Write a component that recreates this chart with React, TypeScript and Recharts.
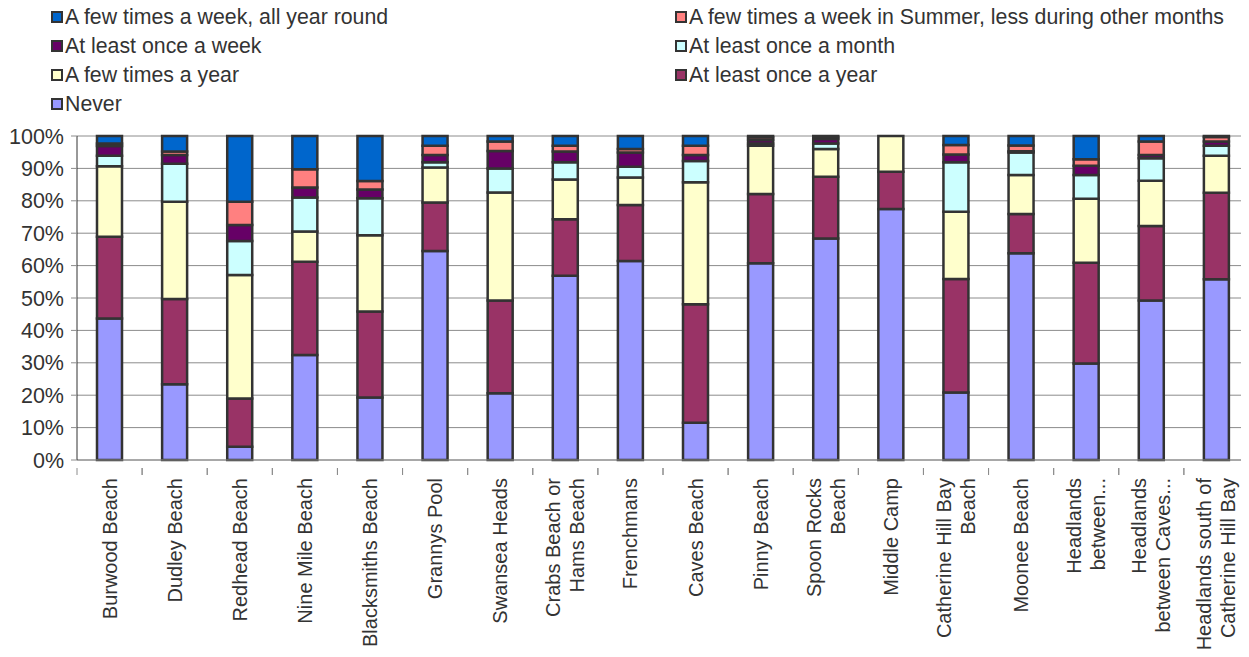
import React from 'react';
import { BarChart, Bar, XAxis, YAxis, CartesianGrid } from 'recharts';

const categories = [
  'Burwood Beach',
  'Dudley Beach',
  'Redhead Beach',
  'Nine Mile Beach',
  'Blacksmiths Beach',
  'Grannys Pool',
  'Swansea Heads',
  'Crabs Beach or\nHams Beach',
  'Frenchmans',
  'Caves Beach',
  'Pinny Beach',
  'Spoon Rocks\nBeach',
  'Middle Camp',
  'Catherine Hill Bay\nBeach',
  'Moonee Beach',
  'Headlands\nbetween...',
  'Headlands\nbetween Caves...',
  'Headlands south of\nCatherine Hill Bay',
];

// percentages, bottom segment first
const never = [43.7, 23.4, 4.1, 32.4, 19.3, 64.5, 20.6, 56.9, 61.4, 11.5, 60.7, 68.4, 77.5, 20.8, 63.8, 29.8, 49.2, 55.8];
const onceYear = [25.2, 26.3, 14.9, 28.8, 26.5, 15.0, 28.6, 17.4, 17.3, 36.6, 21.4, 19.0, 11.5, 35.1, 12.1, 31.1, 23.0, 26.7];
const fewYear = [21.8, 30.0, 38.1, 9.3, 23.6, 10.8, 33.4, 12.3, 8.5, 37.6, 14.9, 8.6, 11.0, 20.7, 12.1, 19.7, 14.0, 11.4];
const onceMonth = [3.2, 11.7, 10.5, 10.5, 11.4, 1.6, 7.4, 5.3, 3.3, 6.6, 0.7, 1.7, 0, 15.3, 6.9, 7.4, 6.9, 3.1];
const onceWeek = [3.0, 2.7, 4.9, 3.1, 2.7, 2.2, 5.4, 3.3, 4.4, 1.8, 1.1, 1.4, 0, 2.4, 0.4, 2.8, 1.0, 1.3];
const summer = [0.8, 1.1, 7.2, 5.6, 2.6, 2.9, 2.9, 1.8, 1.1, 2.9, 0.8, 0.6, 0, 2.9, 1.8, 2.0, 4.2, 1.4];
const allYear = [2.3, 4.8, 20.3, 10.3, 13.9, 3.0, 1.7, 3.0, 4.0, 3.0, 0.4, 0.3, 0, 2.8, 2.9, 7.2, 1.7, 0.3];

const yTicks = [0, 0.1, 0.2, 0.3, 0.4, 0.5, 0.6, 0.7, 0.8, 0.9, 1];

const series = [
  { key: 'never', name: 'Never', color: '#9999FF', values: never },
  { key: 'onceYear', name: 'At least once a year', color: '#993366', values: onceYear },
  { key: 'fewYear', name: 'A few times a year', color: '#FFFFCC', values: fewYear },
  { key: 'onceMonth', name: 'At least once a month', color: '#CCFFFF', values: onceMonth },
  { key: 'onceWeek', name: 'At least once a week', color: '#660066', values: onceWeek },
  { key: 'summer', name: 'A few times a week in Summer, less during other months', color: '#FF8080', values: summer },
  { key: 'allYear', name: 'A few times a week, all year round', color: '#0066CC', values: allYear },
];

// legend grid: two columns, reading order as in the original
const legendRows = [
  ['allYear', 'summer'],
  ['onceWeek', 'onceMonth'],
  ['fewYear', 'onceYear'],
  ['never'],
];

const data = categories.map((name, i) => {
  const row: any = { name };
  series.forEach(s => { row[s.key] = s.values[i]; });
  return row;
});

const W = 1249;
const H = 657;
const PLOT_LEFT = 77;
const PLOT_RIGHT = 0;
const BAND = (W - PLOT_LEFT - PLOT_RIGHT) / categories.length;
const FONT = '"Liberation Sans", Arial, sans-serif';

const CategoryTick = (props: any) => {
  const { x, y, payload } = props;
  const lines: string[] = String(payload.value).split('\n');
  const lh = 24;
  const start = -((lines.length - 1) * lh) / 2;
  return (
    <g>
      <line x1={x - BAND / 2} y1={y} x2={x - BAND / 2} y2={y + 7} stroke="#8c8c8c" />
      <line x1={x + BAND / 2} y1={y} x2={x + BAND / 2} y2={y + 7} stroke="#8c8c8c" />
      {lines.map((ln, i) => (
        <text
          key={i}
          transform={`translate(${x + start + i * lh + 7}, ${y + 10}) rotate(-90)`}
          textAnchor="end"
          fontSize={20}
          fill="#333"
          fontFamily={FONT}
        >
          {ln}
        </text>
      ))}
    </g>
  );
};

const Legend = () => (
  <div style={{ position: 'absolute', left: 0, top: 0, width: W, fontFamily: FONT, fontSize: 21.3, color: '#333' }}>
    {legendRows.map((row, r) =>
      row.map((k, c) => {
        const s = series.find(d => d.key === k)!;
        return (
          <div
            key={k}
            style={{
              position: 'absolute',
              left: c === 0 ? 51 : 675,
              top: 5 + r * 29,
              height: 24,
              display: 'flex',
              alignItems: 'center',
              whiteSpace: 'nowrap',
            }}
          >
            <span style={{ width: 8, height: 8, background: s.color, border: '2px solid #333', marginRight: 2, display: 'inline-block' }} />
            <span>{s.name}</span>
          </div>
        );
      })
    )}
  </div>
);

export default function App() {
  return (
    <div style={{ position: 'relative', width: W, height: H, margin: -8, background: '#fff', fontFamily: FONT }}>
      <Legend />
      <div style={{ position: 'absolute', left: 0, top: 0 }}>
        <BarChart
          width={W}
          height={H}
          data={data}
          stackOffset="expand"
          barSize={25}
          margin={{ top: 136, right: PLOT_RIGHT, bottom: 7, left: 7 }}
        >
          <CartesianGrid vertical={false} stroke="#8c8c8c" />
          <XAxis
            dataKey="name"
            interval={0}
            height={190}
            axisLine={{ stroke: '#8c8c8c' }}
            tickLine={false}
            tick={<CategoryTick />}
          />
          <YAxis
            width={70}
            domain={[0, 1]}
            ticks={yTicks}
            tickFormatter={(v: number) => `${Math.round(v * 100)}%`}
            axisLine={{ stroke: '#333' }}
            tickLine={{ stroke: '#8c8c8c' }}
            tickSize={6}
            tickMargin={7}
            tick={{ fontSize: 21.5, fill: '#333', fontFamily: FONT }}
          />
          {series.map(s => (
            <Bar
              key={s.key}
              dataKey={s.key}
              name={s.name}
              stackId="a"
              fill={s.color}
              stroke="#333"
              strokeWidth={2.5}
              isAnimationActive={false}
            />
          ))}
        </BarChart>
      </div>
    </div>
  );
}
